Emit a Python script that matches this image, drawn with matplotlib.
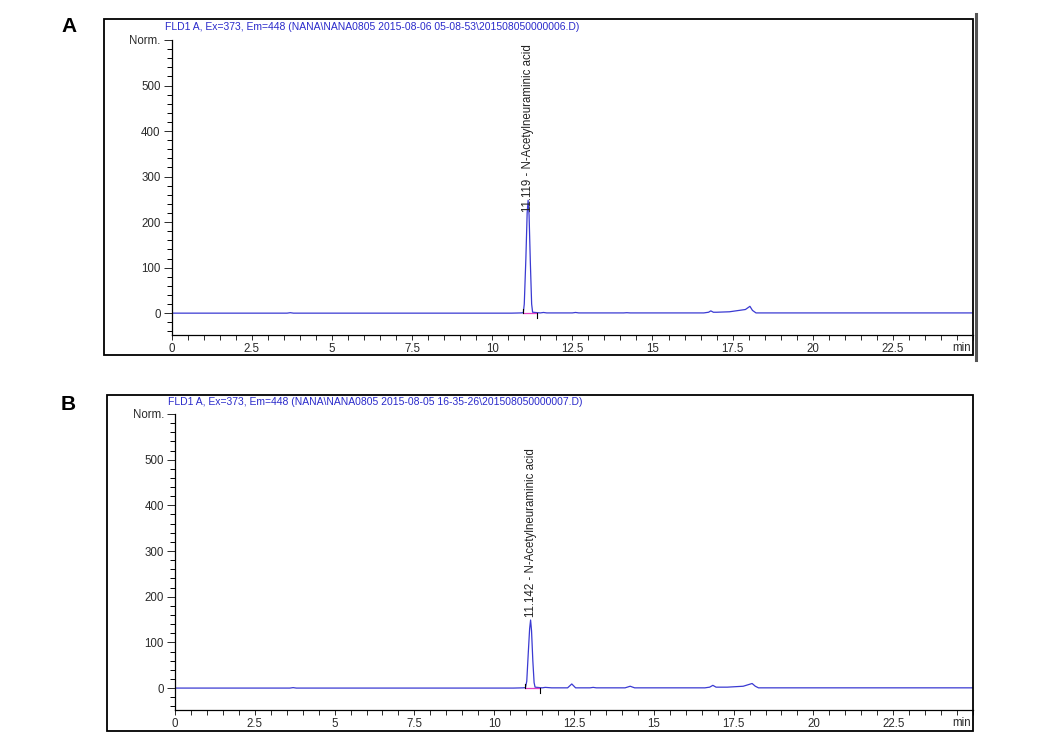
import matplotlib
matplotlib.use("Agg")
import matplotlib.pyplot as plt
from matplotlib.patches import Rectangle
from matplotlib.lines import Line2D
from matplotlib.ticker import MultipleLocator

plt.rcParams['font.family'] = ['Liberation Sans', 'DejaVu Sans']

# chromatogram A (time in min, signal in Norm.)
time_a = [0, 3.6, 3.7, 3.8, 10.6, 10.9, 10.97, 11.0, 11.05, 11.09, 11.12, 11.15, 11.19,
          11.23, 11.26, 11.5, 11.6, 11.7, 12.5, 12.6, 12.7, 14.1, 14.2, 14.3, 16.6,
          16.75, 16.82, 16.9, 17.0, 17.4, 17.7, 17.9, 18.04, 18.12, 18.23, 25]
sig_a = [0, 0, 1, 0, 0, 0.5, 1, 20, 120, 220, 248, 215, 110,
         20, 2, 0.5, 1.5, 0.5, 0.5, 1.5, 0.5, 0.5, 1, 0.5, 0.5,
         2, 5, 2, 2, 3, 6, 8, 15, 6, 0.5, 0.5]

# chromatogram B
time_b = [0, 3.6, 3.7, 3.8, 10.6, 10.9, 10.98, 11.02, 11.07, 11.11, 11.14, 11.17, 11.21,
          11.25, 11.28, 11.5, 11.6, 11.8, 12.3, 12.43, 12.55, 13.0, 13.1, 13.2, 14.1,
          14.26, 14.4, 16.6, 16.75, 16.85, 16.95, 17.3, 17.8, 18.08, 18.18, 18.28, 25]
sig_b = [0, 0, 1, 0, 0, 0.5, 1, 15, 80, 130, 149, 125, 60,
         12, 2, 0.5, 1.5, 0.5, 0.5, 9, 0.5, 0.5, 1.5, 0.5, 0.5,
         4, 0.5, 0.5, 2, 6, 2, 2, 4, 10, 4, 0.5, 0.5]

titles = [r"FLD1 A, Ex=373, Em=448 (NANA\NANA0805 2015-08-06 05-08-53\201508050000006.D)",
          r"FLD1 A, Ex=373, Em=448 (NANA\NANA0805 2015-08-05 16-35-26\201508050000007.D)"]
peak_rt = [11.119, 11.142]
peak_lbl_y = [222, 155]
peak_name = "N-Acetylneuraminic acid"
panel_letters = ["A", "B"]
x_labels = ["0", "2.5", "5", "7.5", "10", "12.5", "15", "17.5", "20", "22.5"]
y_labels = ["0", "100", "200", "300", "400", "500", "Norm."]
integ_start = [10.95, 10.95]
integ_end = [11.4, 11.42]

W, H = 1041, 751
fig = plt.figure(figsize=(W / 100, H / 100), dpi=100)

trace_col = '#3a3ad2'
title_col = '#2a2acb'

# layout in pixels: box (l, t, r, b), axes (l, t, r, b)
boxes = [(104, 19, 973, 355), (107, 395, 973, 731)]
axes_px = [(171.7, 40, 973, 335), (175, 414, 973, 710)]
title_px = [(165, 27), (168, 402)]
letter_px = [(69, 27), (68, 405)]

series = [(time_a, sig_a), (time_b, sig_b)]

for i in range(2):
    bl, bt, br, bb = boxes[i]
    fig.patches.append(Rectangle((bl / W, 1 - bb / H), (br - bl) / W, (bb - bt) / H,
                                 transform=fig.transFigure, fill=False, lw=1.3,
                                 ec='black', zorder=0))
    al, at, ar, ab = axes_px[i]
    ax = fig.add_axes([al / W, 1 - ab / H, (ar - al) / W, (ab - at) / H])
    t, s = series[i]
    ax.plot(t, s, color=trace_col, lw=0.9)
    # integration baseline and markers
    ax.plot([integ_start[i], integ_end[i]], [0, 0], color='#e040c0', lw=0.9)
    ax.plot([integ_start[i], integ_start[i]], [0, 10], color='black', lw=0.8)
    ax.plot([integ_end[i], integ_end[i]], [0, -10], color='black', lw=0.8)

    ax.set_xlim(0, 25)
    ax.set_ylim(-48, 600)
    for sp in ['top', 'right']:
        ax.spines[sp].set_visible(False)
    ax.spines['left'].set_linewidth(0.9)
    ax.spines['bottom'].set_linewidth(0.9)
    ax.patch.set_alpha(0)

    ax.set_xticks([k * 2.5 for k in range(10)])
    ax.set_xticklabels(x_labels)
    ax.xaxis.set_minor_locator(MultipleLocator(0.5))
    ax.set_yticks([0, 100, 200, 300, 400, 500, 600])
    ax.set_yticklabels(y_labels)
    ax.yaxis.set_minor_locator(MultipleLocator(20))
    ax.tick_params(axis='x', which='both', length=3.5, width=0.7, labelsize=8.3,
                   pad=2, colors='#2a2a2a')
    ax.tick_params(axis='y', which='major', length=6, width=0.7, labelsize=8.3,
                   pad=2, colors='#2a2a2a')
    ax.tick_params(axis='y', which='minor', length=3.5, width=0.7)
    ax.text(24.95, -64, "min", ha='right', va='top', fontsize=8.3, color='#2a2a2a')

    ax.text(peak_rt[i], peak_lbl_y[i], f"{peak_rt[i]:.3f} - N-Acetylneuraminic acid",
            rotation=90, ha='center', va='bottom', fontsize=8.3, color='#222222',
            clip_on=False)

    tx, ty = title_px[i]
    fig.text(tx / W, 1 - ty / H, titles[i], ha='left', va='center', fontsize=7.5,
             color=title_col)
    lx, ly = letter_px[i]
    fig.text(lx / W, 1 - ly / H, panel_letters[i], ha='center', va='center',
             fontsize=15, fontweight='bold', color='black')

# window edge artifact on the right of panel A
fig.add_artist(Line2D([975.5 / W, 975.5 / W], [1 - 14 / H, 1 - 360 / H],
                      color='#555555', lw=2.2, transform=fig.transFigure))

fig.savefig("out.png", dpi=100, facecolor='white')
